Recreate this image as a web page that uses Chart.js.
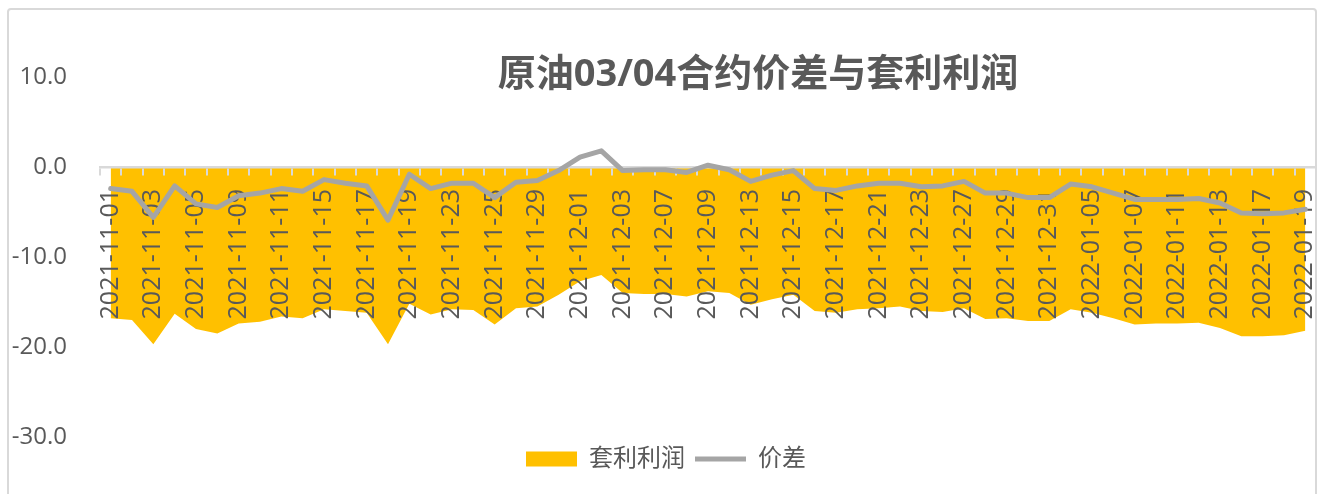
<!DOCTYPE html>
<html>
<head>
<meta charset="utf-8">
<script src="https://cdn.jsdelivr.net/npm/chart.js@4.4.1/dist/chart.umd.min.js"></script>
<style>
  html, body { margin: 0; padding: 0; background: #fff; overflow: hidden; }
  #wrap { position: relative; width: 1325px; height: 494px; }
  #frame {
    position: absolute; left: 7px; top: 8px; width: 1310px; height: 520px;
    border: 2px solid #D9D9D9; border-radius: 4px; box-sizing: border-box;
  }
  #chartBox { position: absolute; left: 0; top: 0; width: 1325px; height: 494px; }
</style>
</head>
<body>
<div id="wrap">
  <div id="frame"></div>
  <div id="chartBox"><canvas id="spreadChart"></canvas></div>
</div>
<script>
// 交易日
const dates = [
  '2021-11-01','2021-11-02','2021-11-03','2021-11-04','2021-11-05','2021-11-08','2021-11-09',
  '2021-11-10','2021-11-11','2021-11-12','2021-11-15','2021-11-16','2021-11-17','2021-11-18',
  '2021-11-19','2021-11-22','2021-11-23','2021-11-24','2021-11-25','2021-11-26','2021-11-29',
  '2021-11-30','2021-12-01','2021-12-02','2021-12-03','2021-12-06','2021-12-07','2021-12-08',
  '2021-12-09','2021-12-10','2021-12-13','2021-12-14','2021-12-15','2021-12-16','2021-12-17',
  '2021-12-20','2021-12-21','2021-12-22','2021-12-23','2021-12-24','2021-12-27','2021-12-28',
  '2021-12-29','2021-12-30','2021-12-31','2022-01-04','2022-01-05','2022-01-06','2022-01-07',
  '2022-01-10','2022-01-11','2022-01-12','2022-01-13','2022-01-14','2022-01-17','2022-01-18',
  '2022-01-19'
];

// 价差 (灰线)
const spread = [
  -2.4, -2.7, -5.6, -2.1, -4.1, -4.5, -3.2, -2.9, -2.4, -2.7,
  -1.4, -1.8, -2.1, -5.9, -0.8, -2.4, -1.8, -1.8, -3.4, -1.7,
  -1.5, -0.4,  1.1,  1.8, -0.4, -0.3, -0.3, -0.6,  0.2, -0.3,
  -1.6, -0.9, -0.4, -2.4, -2.6, -2.1, -1.8, -1.8, -2.2, -2.1,
  -1.6, -2.9, -2.9, -3.4, -3.4, -1.9, -2.2, -2.9, -3.6, -3.6,
  -3.6, -3.5, -4.0, -5.1, -5.2, -5.1, -4.7
];

// 套利利润 (黄色面积)
const profit = [
  -16.8, -17.0, -19.7, -16.3, -18.0, -18.5, -17.4, -17.2, -16.6, -16.8,
  -15.8, -16.0, -16.2, -19.7, -15.2, -16.4, -15.8, -15.9, -17.5, -15.7,
  -15.5, -14.2, -12.7, -12.0, -14.0, -14.1, -14.1, -14.4, -13.8, -14.0,
  -15.3, -14.7, -14.2, -16.0, -16.2, -15.8, -15.7, -15.5, -16.0, -16.1,
  -15.7, -16.9, -16.8, -17.1, -17.1, -15.8, -16.2, -16.8, -17.5, -17.4,
  -17.4, -17.3, -17.9, -18.8, -18.8, -18.7, -18.2
];

const yTicks = [10, 0, -10, -20, -30];
const chartTitle = '原油03/04合约价差与套利利润';

const FONT = '"Open Sans", "Noto Sans CJK SC", sans-serif';
const TEXT_COLOR = '#595959';

// 标题画在绘图区里面 (和 Excel 一样叠在图上)
const titlePlugin = {
  id: 'overlayTitle',
  afterLayout(chart) {
    // 图例稍微往右挪一点
    chart.legend.left += 8;
    chart.legend.right += 8;
  },
  afterDraw(chart) {
    const ctx = chart.ctx;
    ctx.save();
    ctx.font = 'bold 38px ' + FONT;
    ctx.fillStyle = TEXT_COLOR;
    ctx.textAlign = 'center';
    ctx.textBaseline = 'middle';
    ctx.fillText(chartTitle, 758, 75);
    ctx.restore();
  }
};

const ctx = document.getElementById('spreadChart').getContext('2d');
const myChart = new Chart(ctx, {
  type: 'line',
  data: {
    labels: dates,
    datasets: [
      {
        label: '套利利润',
        data: profit,
        backgroundColor: '#FFC000',
        borderColor: '#FFC000',
        borderWidth: 0,
        fill: 'origin',
        pointRadius: 0,
        pointStyle: 'rect',
        tension: 0,
        order: 2
      },
      {
        label: '价差',
        data: spread,
        borderColor: '#A5A5A5',
        backgroundColor: '#A5A5A5',
        borderWidth: 5,
        borderJoinStyle: 'round',
        borderCapStyle: 'round',
        fill: false,
        pointRadius: 0,
        pointStyle: 'line',
        tension: 0,
        order: 1
      }
    ]
  },
  options: {
    responsive: true,
    maintainAspectRatio: false,
    animation: false,
    layout: { padding: { left: 0, right: 9, top: 77, bottom: 13 } },
    plugins: {
      // 面积先画，坐标轴文字在面积上面，灰线在最上面
      filler: { drawTime: 'beforeDraw' },
      title: { display: false },
      tooltip: { enabled: false },
      legend: {
        position: 'bottom',
        labels: {
          usePointStyle: true,
          pointStyleWidth: 51,
          boxHeight: 15,
          padding: 10,
          color: TEXT_COLOR,
          font: { family: FONT, size: 24 },
          sort: (a, b) => a.datasetIndex - b.datasetIndex
        }
      }
    },
    scales: {
      x: {
        position: { y: 0 },
        offset: true,
        afterFit: (scale) => { scale.paddingLeft = 0; scale.paddingRight = 0; },
        grid: {
          display: true,
          drawOnChartArea: false,
          drawTicks: true,
          tickLength: 7,
          offset: true,
          color: '#D9D9D9',
          lineWidth: 2
        },
        border: { display: true, color: '#D9D9D9', width: 2.5 },
        ticks: {
          autoSkip: false,
          maxRotation: 90,
          minRotation: 90,
          padding: 15,
          color: TEXT_COLOR,
          font: { family: FONT, size: 25 },
          callback: (val, idx) => idx % 2 === 0 ? dates[idx] : ''
        }
      },
      y: {
        min: -30,
        max: 10,
        afterFit: (scale) => { scale.width = 100; },
        afterBuildTicks: (scale) => { scale.ticks = yTicks.map(v => ({ value: v })); },
        grid: { display: false, drawTicks: false },
        border: { display: false },
        ticks: {
          padding: 33,
          color: TEXT_COLOR,
          font: { family: FONT, size: 24 },
          callback: (v) => v.toFixed(1)
        }
      }
    }
  },
  plugins: [titlePlugin]
});
</script>
</body>
</html>
